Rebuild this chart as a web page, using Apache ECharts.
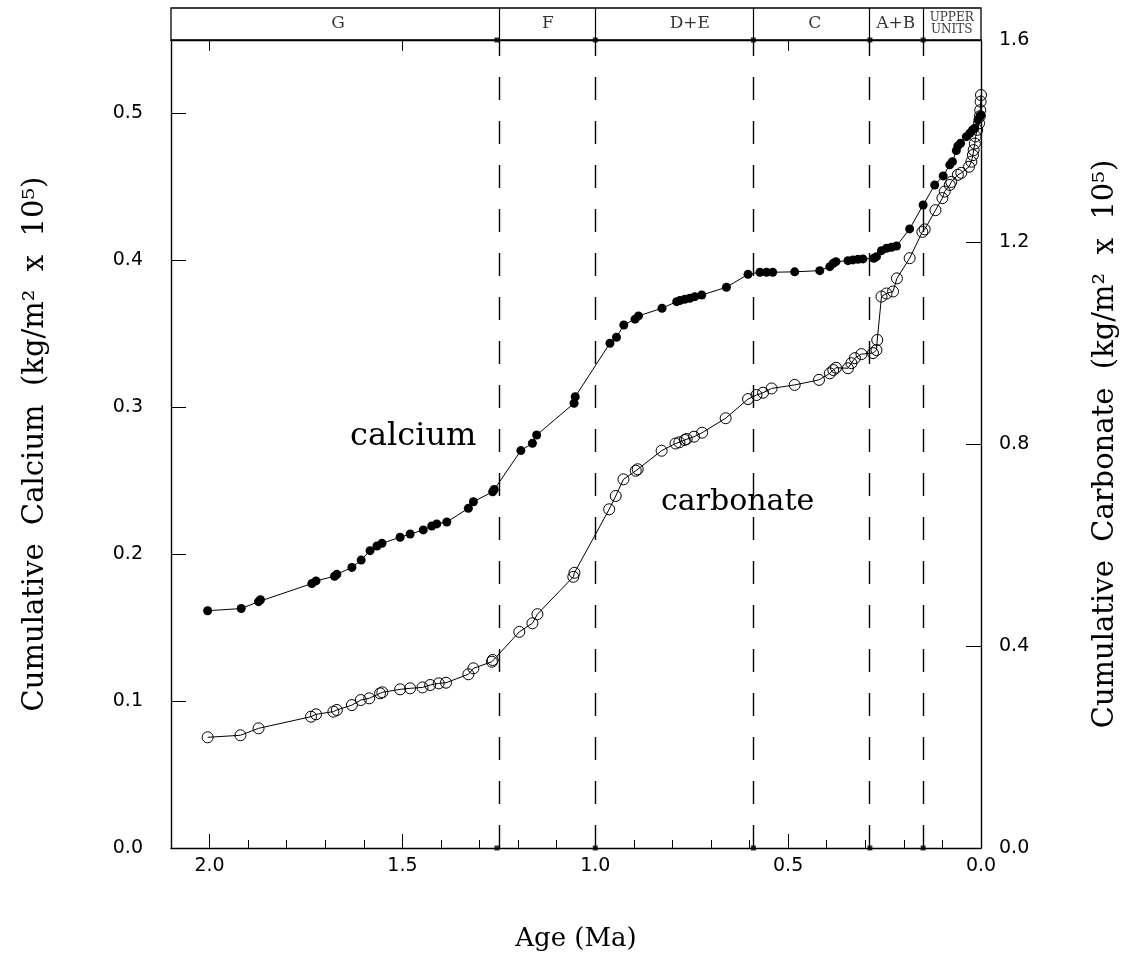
<!DOCTYPE html>
<html>
<head>
<meta charset="utf-8">
<script src="https://cdn.jsdelivr.net/npm/echarts@6/dist/echarts.min.js"></script>
<style>
html,body{margin:0;padding:0;background:#fff;}
#chart{width:1135px;height:963px;}
</style>
</head>
<body>
<div id="chart"></div>
<script>
// Age (Ma), cumulative calcium (kg/m2 x 1e5)
const calciumAge = [2.005,1.918,1.873,1.868,1.735,1.724,1.676,1.670,1.631,1.607,1.584,1.566,1.553,1.506,1.480,1.446,1.424,1.411,1.385,1.329,1.316,1.266,1.262,1.193,1.163,1.152,1.055,1.052,0.962,0.945,0.926,0.897,0.888,0.827,0.789,0.781,0.768,0.755,0.742,0.724,0.660,0.604,0.573,0.556,0.540,0.483,0.418,0.392,0.383,0.376,0.345,0.332,0.319,0.306,0.278,0.271,0.258,0.245,0.232,0.219,0.185,0.150,0.120,0.098,0.081,0.074,0.064,0.060,0.053,0.038,0.029,0.022,0.016,0.008,0.003,0.000];
const calciumVal = [0.1615,0.163,0.1677,0.169,0.180,0.1818,0.185,0.1863,0.191,0.196,0.2024,0.2056,0.2074,0.2115,0.2137,0.2165,0.2192,0.2206,0.2219,0.2312,0.2357,0.2425,0.2440,0.2705,0.2755,0.2811,0.3027,0.3072,0.3436,0.3477,0.356,0.360,0.3622,0.3674,0.3719,0.3726,0.3735,0.3742,0.3753,0.3764,0.3817,0.3905,0.3919,0.3919,0.3919,0.3922,0.393,0.3957,0.398,0.3991,0.3998,0.4003,0.4007,0.401,0.4014,0.4025,0.4066,0.4082,0.4089,0.4098,0.4214,0.4377,0.4513,0.4575,0.4650,0.4672,0.4747,0.4779,0.4797,0.4842,0.4865,0.4888,0.4899,0.4956,0.4979,0.499];

// Age (Ma), cumulative carbonate (kg/m2 x 1e5)
const carbonateAge = [2.005,1.920,1.873,1.737,1.724,1.679,1.670,1.631,1.608,1.586,1.558,1.552,1.506,1.480,1.448,1.428,1.406,1.387,1.329,1.316,1.268,1.266,1.197,1.163,1.150,1.057,1.054,0.964,0.947,0.927,0.895,0.890,0.828,0.792,0.782,0.768,0.763,0.744,0.723,0.662,0.604,0.582,0.565,0.543,0.483,0.420,0.392,0.383,0.376,0.345,0.336,0.327,0.310,0.280,0.271,0.269,0.258,0.245,0.228,0.218,0.185,0.152,0.146,0.118,0.100,0.094,0.081,0.077,0.060,0.051,0.031,0.025,0.021,0.019,0.016,0.014,0.010,0.005,0.003,0.002,0.001,0.000];
const carbonateVal = [0.2192,0.2232,0.237,0.260,0.2647,0.270,0.2733,0.283,0.293,0.2964,0.3063,0.3083,0.3142,0.3162,0.318,0.3228,0.326,0.3273,0.344,0.3558,0.3689,0.3723,0.428,0.445,0.463,0.537,0.545,0.6707,0.697,0.730,0.747,0.750,0.7867,0.801,0.8034,0.808,0.810,0.8145,0.8224,0.851,0.889,0.897,0.9016,0.910,0.917,0.927,0.940,0.9465,0.951,0.950,0.960,0.970,0.978,0.980,0.986,1.006,1.092,1.098,1.102,1.128,1.168,1.220,1.225,1.263,1.287,1.300,1.313,1.319,1.333,1.337,1.349,1.359,1.372,1.382,1.395,1.409,1.422,1.435,1.449,1.461,1.478,1.491];

// Stratigraphic unit boundaries (Ma) and labels
const zoneBounds = [1.255, 1.0, 0.59, 0.288, 0.15];
const zoneNames = ['G', 'F', 'D+E', 'C', 'A+B', 'UPPER\nUNITS'];
const zoneLabelAge = [1.667, 1.123, 0.755, 0.431, 0.221, 0.076];

const xTickLabels = ['0.0', '0.5', '1.0', '1.5', '2.0'];

const calciumData = calciumAge.map((a, i) => [a, calciumVal[i]]);
const carbonateData = carbonateAge.map((a, i) => [a, carbonateVal[i]]);

const serif = '"DejaVu Serif", "Liberation Serif", serif';
const sans = '"DejaVu Sans", "Liberation Sans", sans-serif';

const GL = 171, GR = 1135 - 981, GT = 40, GB = 963 - 848;

const chart = echarts.init(document.getElementById('chart'), null, {renderer: 'canvas'});

function fmt1(v) {
  return Math.abs(v * 10 - Math.round(v * 10)) < 1e-6 ? v.toFixed(1) : '';
}

const option = {
  animation: false,
  backgroundColor: '#fff',
  grid: [
    {left: GL, right: GR, top: GT, bottom: GB, show: false},
    {left: GL, right: GR, top: 8, height: GT - 8, show: true, borderColor: '#000', borderWidth: 1.3, backgroundColor: 'transparent'}
  ],
  xAxis: [
    { // bottom: minor ticks every 0.1
      type: 'value', gridIndex: 0, position: 'bottom', inverse: true, min: 0, max: 2.1, interval: 0.1,
      axisLine: {show: true, onZero: false, lineStyle: {color: '#000', width: 1.4}},
      axisTick: {show: true, inside: true, length: 8, lineStyle: {color: '#000', width: 1}},
      axisLabel: {show: false},
      splitLine: {show: false}
    },
    { // bottom: major ticks & labels every 0.5
      type: 'value', gridIndex: 0, position: 'bottom', inverse: true, min: 0, max: 2.1, interval: 0.5,
      name: 'Age (Ma)', nameLocation: 'middle', nameGap: 78,
      nameTextStyle: {fontFamily: serif, fontSize: 26, color: '#000'},
      axisLine: {show: false, onZero: false},
      axisTick: {show: true, inside: true, length: 14, lineStyle: {color: '#000', width: 1}},
      axisLabel: {show: true, margin: 9, fontFamily: sans, fontSize: 19, color: '#000',
        formatter: v => { const i = xTickLabels.indexOf(v.toFixed(1)); return (Math.abs(v*2 - Math.round(v*2)) < 1e-6 && i >= 0) ? xTickLabels[i] : ''; }},
      splitLine: {show: false}
    },
    { // top of main plot
      type: 'value', gridIndex: 0, position: 'top', inverse: true, min: 0, max: 2.1, interval: 0.5,
      axisLine: {show: true, onZero: false, lineStyle: {color: '#000', width: 1.4}},
      axisTick: {show: true, inside: true, length: 11, lineStyle: {color: '#000', width: 1}},
      axisLabel: {show: false},
      splitLine: {show: false}
    },
    { // band
      type: 'value', gridIndex: 1, inverse: true, min: 0, max: 2.1,
      axisLine: {show: false}, axisTick: {show: false}, axisLabel: {show: false}, splitLine: {show: false}
    }
  ],
  yAxis: [
    {
      type: 'value', gridIndex: 0, position: 'left', min: 0, max: 0.55, interval: 0.1,
      name: 'Cumulative  Calcium  (kg/m²  x  10⁵)', nameLocation: 'middle', nameGap: 121, nameRotate: 90,
      nameTextStyle: {fontFamily: serif, fontSize: 29, color: '#000'},
      axisLine: {show: true, onZero: false, lineStyle: {color: '#000', width: 1.4}},
      axisTick: {show: true, inside: true, length: 15, lineStyle: {color: '#000', width: 1}},
      axisLabel: {show: true, margin: 28, fontFamily: sans, fontSize: 19, color: '#000', formatter: fmt1},
      splitLine: {show: false}
    },
    {
      type: 'value', gridIndex: 0, position: 'right', min: 0, max: 1.6, interval: 0.4,
      name: 'Cumulative  Carbonate  (kg/m²  x  10⁵)', nameLocation: 'middle', nameGap: 110, nameRotate: 90,
      nameTextStyle: {fontFamily: serif, fontSize: 29, color: '#000'},
      axisLine: {show: true, onZero: false, lineStyle: {color: '#000', width: 1.4}},
      axisTick: {show: true, inside: true, length: 15, lineStyle: {color: '#000', width: 1}},
      axisLabel: {show: true, margin: 18, fontFamily: sans, fontSize: 19, color: '#000', formatter: fmt1},
      splitLine: {show: false}
    },
    {
      type: 'value', gridIndex: 1, min: 0, max: 1,
      axisLine: {show: false}, axisTick: {show: false}, axisLabel: {show: false}, splitLine: {show: false}
    }
  ],
  series: [
    {
      name: 'boundaries', type: 'scatter', xAxisIndex: 0, yAxisIndex: 0, clip: false,
      symbol: 'rect', symbolSize: 5, itemStyle: {color: '#000'}, silent: true,
      data: zoneBounds.map(b => [b, 0]).concat(zoneBounds.map(b => [b, 0.55])),
      markLine: {
        silent: true, symbol: ['none', 'none'], label: {show: false},
        lineStyle: {color: '#000', width: 1.4, type: [23, 21]},
        data: zoneBounds.map(b => ({xAxis: b}))
      }
    },
    {
      name: 'zones', type: 'scatter', xAxisIndex: 3, yAxisIndex: 2, silent: true,
      symbolSize: 1, itemStyle: {color: 'rgba(0,0,0,0)'},
      data: zoneLabelAge.map((a, i) => ({value: [a, 0.5], name: zoneNames[i]})),
      label: {
        show: true, position: 'inside', formatter: '{b}', color: '#000',
        fontFamily: serif, fontSize: 17, lineHeight: 13
      },
      labelLayout: {hideOverlap: false},
      markLine: {
        silent: true, symbol: ['none', 'none'], label: {show: false},
        lineStyle: {color: '#000', width: 1.2, type: 'solid'},
        data: zoneBounds.map(b => ({xAxis: b}))
      }
    },
    {
      name: 'calcium', type: 'line', xAxisIndex: 0, yAxisIndex: 0,
      data: calciumData,
      symbol: 'circle', symbolSize: 9, showAllSymbol: true,
      itemStyle: {color: '#000'},
      lineStyle: {color: '#000', width: 1}
    },
    {
      name: 'carbonate', type: 'line', xAxisIndex: 0, yAxisIndex: 1,
      data: carbonateData,
      symbol: 'circle', symbolSize: 11, showAllSymbol: true,
      itemStyle: {color: 'rgba(255,255,255,0)', borderColor: '#000', borderWidth: 1},
      lineStyle: {color: '#000', width: 1}
    }
  ],
  graphic: [
    {type: 'text', left: 350, top: 421, style: {text: 'calcium', font: '32px ' + serif, fill: '#000'}},
    {type: 'text', left: 661, top: 487, style: {text: 'carbonate', font: '30px ' + serif, fill: '#000'}}
  ]
};

// smaller font for the two-line "UPPER UNITS" label
option.series[1].data[5].label = {fontSize: 12, lineHeight: 12};

chart.setOption(option);
</script>
</body>
</html>
